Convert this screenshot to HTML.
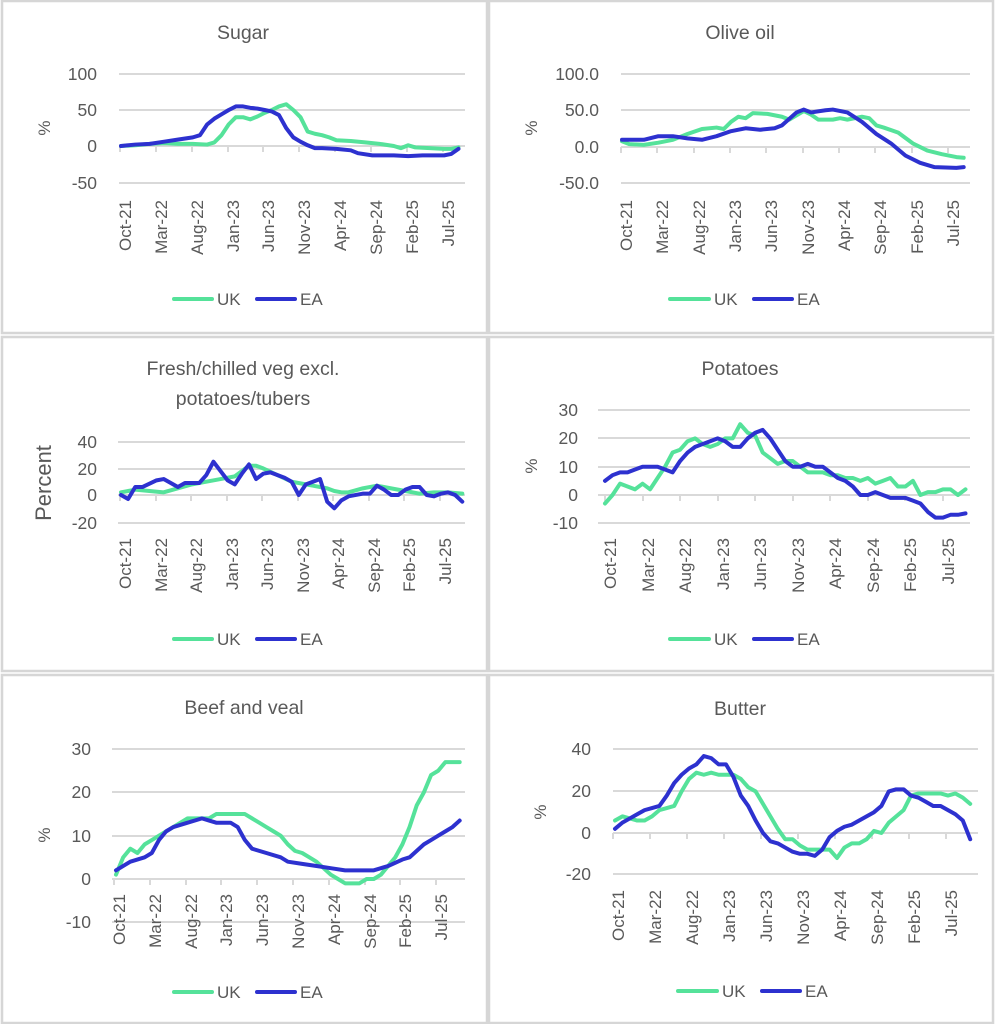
<!DOCTYPE html>
<html><head><meta charset="utf-8"><style>
html,body{margin:0;padding:0;background:#fff}
svg{display:block}
text{font-family:"Liberation Sans",sans-serif;fill:#595959}
.t{font-size:19.5px;text-anchor:middle}
.y{font-size:17.5px;text-anchor:end}
.x{font-size:17px;text-anchor:end}
.lg{font-size:17px}
.g{stroke:#d9d9d9;stroke-width:2}
.uk{fill:none;stroke:#55e29a;stroke-width:4;stroke-linejoin:round;stroke-linecap:round}
.ea{fill:none;stroke:#2d31cf;stroke-width:4;stroke-linejoin:round;stroke-linecap:round}
polyline{vector-effect:non-scaling-stroke}
</style></head><body>
<svg width="995" height="1024" viewBox="0 0 995 1024" xmlns="http://www.w3.org/2000/svg">
<rect x="0" y="0" width="995" height="1024" fill="#fff"/>
<g fill="none" stroke="#d6d6d6" stroke-width="2.5">
<rect x="2" y="1" width="485" height="332"/>
<rect x="489" y="1" width="504" height="332"/>
<rect x="2" y="337" width="485" height="334"/>
<rect x="489" y="337" width="504" height="334"/>
<rect x="2" y="675" width="485" height="348"/>
<rect x="489" y="675" width="504" height="348"/>
</g>

<!-- SUGAR -->
<text class="t" x="243" y="39">Sugar</text>
<line class="g" x1="119" y1="74" x2="465" y2="74"/><line class="g" x1="119" y1="110" x2="465" y2="110"/><line class="g" x1="119" y1="146" x2="465" y2="146"/><line class="g" x1="119" y1="183" x2="465" y2="183"/>
<g class="g"><line x1="120" y1="146" x2="120" y2="152"/><line x1="156" y1="146" x2="156" y2="152"/><line x1="192" y1="146" x2="192" y2="152"/><line x1="228" y1="146" x2="228" y2="152"/><line x1="263" y1="146" x2="263" y2="152"/><line x1="299" y1="146" x2="299" y2="152"/><line x1="335" y1="146" x2="335" y2="152"/><line x1="371" y1="146" x2="371" y2="152"/><line x1="407" y1="146" x2="407" y2="152"/><line x1="443" y1="146" x2="443" y2="152"/></g>
<text class="y" x="97" y="80">100</text><text class="y" x="97" y="116">50</text><text class="y" x="97" y="152">0</text><text class="y" x="97" y="189">-50</text>
<text class="lg" transform="translate(50,128) rotate(-90)" text-anchor="middle">%</text>
<g class="x"><text transform="translate(131,200) rotate(-90)">Oct-21</text><text transform="translate(167,200) rotate(-90)">Mar-22</text><text transform="translate(203,200) rotate(-90)">Aug-22</text><text transform="translate(239,200) rotate(-90)">Jan-23</text><text transform="translate(274,200) rotate(-90)">Jun-23</text><text transform="translate(310,200) rotate(-90)">Nov-23</text><text transform="translate(346,200) rotate(-90)">Apr-24</text><text transform="translate(382,200) rotate(-90)">Sep-24</text><text transform="translate(418,200) rotate(-90)">Feb-25</text><text transform="translate(454,200) rotate(-90)">Jul-25</text></g>
<g transform="translate(121,146) scale(7.18,-0.72)">
<polyline class="uk" points="0,0 2,1 4,3 6,4 8,3 10,3 12,2 13,5 14,15 15,30 16,40 17,40 18,37 19,41 20,46 21,50 22,55 23,58 24,50 25,40 26,20 27,17 28,15 29,12 30,8 32,7 34,5 36,3 38,0 39,-3 40,1 41,-2 43,-3 45,-4 46,-4 47,-2"/>
<polyline class="ea" points="0,0 2,2 4,3 6,6 8,9 10,12 11,15 12,30 13,38 14,44 15,50 16,55 17,55 18,53 19,52 20,50 21,48 22,43 23,25 24,12 25,6 26,1 27,-3 28,-3 30,-4 32,-6 33,-10 35,-13 38,-13 40,-14 42,-13 45,-13 46,-11 47,-4"/>
</g>
<line class="uk" x1="174" y1="299" x2="212" y2="299"/><text class="lg" x="217" y="305">UK</text>
<line class="ea" x1="257" y1="299" x2="295" y2="299"/><text class="lg" x="300" y="305">EA</text>

<!-- OLIVE OIL -->
<text class="t" x="740" y="39">Olive oil</text>
<line class="g" x1="621" y1="74" x2="970" y2="74"/><line class="g" x1="621" y1="110" x2="970" y2="110"/><line class="g" x1="621" y1="147" x2="970" y2="147"/><line class="g" x1="621" y1="183" x2="970" y2="183"/>
<g class="g"><line x1="621" y1="147" x2="621" y2="153"/><line x1="657" y1="147" x2="657" y2="153"/><line x1="694" y1="147" x2="694" y2="153"/><line x1="730" y1="147" x2="730" y2="153"/><line x1="766" y1="147" x2="766" y2="153"/><line x1="803" y1="147" x2="803" y2="153"/><line x1="839" y1="147" x2="839" y2="153"/><line x1="875" y1="147" x2="875" y2="153"/><line x1="912" y1="147" x2="912" y2="153"/><line x1="948" y1="147" x2="948" y2="153"/></g>
<text class="y" x="599" y="80">100.0</text><text class="y" x="599" y="116">50.0</text><text class="y" x="599" y="153">0.0</text><text class="y" x="599" y="189">-50.0</text>
<text class="lg" transform="translate(537,128) rotate(-90)" text-anchor="middle">%</text>
<g class="x"><text transform="translate(632,200) rotate(-90)">Oct-21</text><text transform="translate(668,200) rotate(-90)">Mar-22</text><text transform="translate(705,200) rotate(-90)">Aug-22</text><text transform="translate(741,200) rotate(-90)">Jan-23</text><text transform="translate(777,200) rotate(-90)">Jun-23</text><text transform="translate(814,200) rotate(-90)">Nov-23</text><text transform="translate(850,200) rotate(-90)">Apr-24</text><text transform="translate(886,200) rotate(-90)">Sep-24</text><text transform="translate(923,200) rotate(-90)">Feb-25</text><text transform="translate(959,200) rotate(-90)">Jul-25</text></g>
<g transform="translate(622,147) scale(7.27,-0.72)">
<polyline class="uk" points="0,8 1,4 3,3 5,6 7,10 9,18 11,25 13,27 14,25 15,35 16,42 17,40 18,47 20,46 22,42 23,38 25,50 26,45 27,38 29,38 30,40 31,38 33,42 34,40 35,30 36,27 38,20 40,5 42,-5 44,-10 46,-14 47,-15"/>
<polyline class="ea" points="0,10 3,10 5,15 7,15 9,12 11,10 13,15 15,22 17,26 19,24 21,26 22,30 24,48 25,52 26,48 28,51 29,52 31,48 33,35 35,18 37,5 39,-12 41,-22 43,-28 46,-29 47,-28"/>
</g>
<line class="uk" x1="670" y1="299" x2="709" y2="299"/><text class="lg" x="714" y="305">UK</text>
<line class="ea" x1="754" y1="299" x2="792" y2="299"/><text class="lg" x="797" y="305">EA</text>

<!-- VEG -->
<text class="t" x="243" y="375">Fresh/chilled veg excl.</text>
<text class="t" x="243" y="405">potatoes/tubers</text>
<line class="g" x1="118" y1="442" x2="465" y2="442"/><line class="g" x1="118" y1="469" x2="465" y2="469"/><line class="g" x1="118" y1="495" x2="465" y2="495"/><line class="g" x1="118" y1="523" x2="465" y2="523"/>
<g class="g"><line x1="120" y1="495" x2="120" y2="501"/><line x1="156" y1="495" x2="156" y2="501"/><line x1="191" y1="495" x2="191" y2="501"/><line x1="227" y1="495" x2="227" y2="501"/><line x1="262" y1="495" x2="262" y2="501"/><line x1="298" y1="495" x2="298" y2="501"/><line x1="333" y1="495" x2="333" y2="501"/><line x1="369" y1="495" x2="369" y2="501"/><line x1="404" y1="495" x2="404" y2="501"/><line x1="440" y1="495" x2="440" y2="501"/></g>
<text class="y" x="97" y="448">40</text><text class="y" x="97" y="475">20</text><text class="y" x="97" y="501">0</text><text class="y" x="97" y="529">-20</text>
<text transform="translate(51,483) rotate(-90)" text-anchor="middle" style="font-size:22px">Percent</text>
<g class="x"><text transform="translate(131,538) rotate(-90)">Oct-21</text><text transform="translate(167,538) rotate(-90)">Mar-22</text><text transform="translate(202,538) rotate(-90)">Aug-22</text><text transform="translate(238,538) rotate(-90)">Jan-23</text><text transform="translate(273,538) rotate(-90)">Jun-23</text><text transform="translate(309,538) rotate(-90)">Nov-23</text><text transform="translate(344,538) rotate(-90)">Apr-24</text><text transform="translate(380,538) rotate(-90)">Sep-24</text><text transform="translate(415,538) rotate(-90)">Feb-25</text><text transform="translate(451,538) rotate(-90)">Jul-25</text></g>
<g transform="translate(121,495) scale(7.11,-1.33)">
<polyline class="uk" points="0,2 2,4 4,3 6,2 8,5 10,8 12,10 14,12 16,14 17,18 18,22 19,22 20,20 22,15 24,10 26,8 27,7 29,5 30,3 31,2 32,2 34,5 36,7 38,5 40,3 42,1 44,2 46,2 48,1"/>
<polyline class="ea" points="0,0 1,-3 2,6 3,6 5,11 6,12 7,9 8,6 9,9 10,9 11,9 12,15 13,25 14,18 15,11 16,8 17,16 18,23 19,12 20,16 21,17 23,13 24,10 25,0 26,8 27,10 28,12 29,-5 30,-10 31,-4 32,-1 34,1 35,1 36,7 37,4 38,0 39,0 40,4 41,6 42,6 43,0 44,-1 45,1 46,2 47,0 48,-5"/>
</g>
<line class="uk" x1="174" y1="639" x2="212" y2="639"/><text class="lg" x="217" y="645">UK</text>
<line class="ea" x1="257" y1="639" x2="295" y2="639"/><text class="lg" x="300" y="645">EA</text>

<!-- POTATOES -->
<text class="t" x="740" y="375">Potatoes</text>
<line class="g" x1="598" y1="410" x2="970" y2="410"/><line class="g" x1="598" y1="438" x2="970" y2="438"/><line class="g" x1="598" y1="467" x2="970" y2="467"/><line class="g" x1="598" y1="495" x2="970" y2="495"/><line class="g" x1="598" y1="523" x2="970" y2="523"/>
<g class="g"><line x1="605" y1="495" x2="605" y2="501"/><line x1="643" y1="495" x2="643" y2="501"/><line x1="680" y1="495" x2="680" y2="501"/><line x1="718" y1="495" x2="718" y2="501"/><line x1="755" y1="495" x2="755" y2="501"/><line x1="793" y1="495" x2="793" y2="501"/><line x1="830" y1="495" x2="830" y2="501"/><line x1="868" y1="495" x2="868" y2="501"/><line x1="905" y1="495" x2="905" y2="501"/><line x1="943" y1="495" x2="943" y2="501"/></g>
<text class="y" x="578" y="416">30</text><text class="y" x="578" y="444">20</text><text class="y" x="578" y="473">10</text><text class="y" x="578" y="501">0</text><text class="y" x="578" y="529">-10</text>
<text class="lg" transform="translate(537,466) rotate(-90)" text-anchor="middle">%</text>
<g class="x"><text transform="translate(616,538) rotate(-90)">Oct-21</text><text transform="translate(654,538) rotate(-90)">Mar-22</text><text transform="translate(691,538) rotate(-90)">Aug-22</text><text transform="translate(729,538) rotate(-90)">Jan-23</text><text transform="translate(766,538) rotate(-90)">Jun-23</text><text transform="translate(804,538) rotate(-90)">Nov-23</text><text transform="translate(841,538) rotate(-90)">Apr-24</text><text transform="translate(879,538) rotate(-90)">Sep-24</text><text transform="translate(916,538) rotate(-90)">Feb-25</text><text transform="translate(954,538) rotate(-90)">Jul-25</text></g>
<g transform="translate(605,495) scale(7.51,-2.83)">
<polyline class="uk" points="0,-3 1,0 2,4 3,3 4,2 5,4 6,2 7,6 8,10 9,15 10,16 11,19 12,20 13,18 14,17 15,18 16,20 17,20 18,25 19,22 20,21 21,15 22,13 23,11 24,12 25,12 26,10 27,8 28,8 29,8 30,7 31,7 32,6 33,6 34,5 35,6 36,4 37,5 38,6 39,3 40,3 41,5 42,0 43,1 44,1 45,2 46,2 47,0 48,2"/>
<polyline class="ea" points="0,5 1,7 2,8 3,8 4,9 5,10 6,10 7,10 8,9 9,8 10,12 11,15 12,17 13,18 14,19 15,20 16,19 17,17 18,17 19,20 20,22 21,23 22,20 23,16 24,12 25,10 26,10 27,11 28,10 29,10 30,8 31,6 32,5 33,3 34,0 35,0 36,1 37,0 38,-1 39,-1 40,-1 41,-2 42,-3 43,-6 44,-8 45,-8 46,-7 47,-7 48,-6.5"/>
</g>
<line class="uk" x1="670" y1="639" x2="709" y2="639"/><text class="lg" x="714" y="645">UK</text>
<line class="ea" x1="754" y1="639" x2="792" y2="639"/><text class="lg" x="797" y="645">EA</text>

<!-- BEEF -->
<text class="t" x="244" y="714">Beef and veal</text>
<line class="g" x1="112" y1="749" x2="465" y2="749"/><line class="g" x1="112" y1="792" x2="465" y2="792"/><line class="g" x1="112" y1="836" x2="465" y2="836"/><line class="g" x1="112" y1="879" x2="465" y2="879"/><line class="g" x1="112" y1="922" x2="465" y2="922"/>
<g class="g"><line x1="114" y1="879" x2="114" y2="885"/><line x1="150" y1="879" x2="150" y2="885"/><line x1="186" y1="879" x2="186" y2="885"/><line x1="221" y1="879" x2="221" y2="885"/><line x1="257" y1="879" x2="257" y2="885"/><line x1="293" y1="879" x2="293" y2="885"/><line x1="329" y1="879" x2="329" y2="885"/><line x1="365" y1="879" x2="365" y2="885"/><line x1="400" y1="879" x2="400" y2="885"/><line x1="436" y1="879" x2="436" y2="885"/></g>
<text class="y" x="91" y="755">30</text><text class="y" x="91" y="798">20</text><text class="y" x="91" y="842">10</text><text class="y" x="91" y="885">0</text><text class="y" x="91" y="928">-10</text>
<text class="lg" transform="translate(50,835) rotate(-90)" text-anchor="middle">%</text>
<g class="x"><text transform="translate(125,894) rotate(-90)">Oct-21</text><text transform="translate(161,894) rotate(-90)">Mar-22</text><text transform="translate(197,894) rotate(-90)">Aug-22</text><text transform="translate(232,894) rotate(-90)">Jan-23</text><text transform="translate(268,894) rotate(-90)">Jun-23</text><text transform="translate(304,894) rotate(-90)">Nov-23</text><text transform="translate(340,894) rotate(-90)">Apr-24</text><text transform="translate(376,894) rotate(-90)">Sep-24</text><text transform="translate(411,894) rotate(-90)">Feb-25</text><text transform="translate(447,894) rotate(-90)">Jul-25</text></g>
<g transform="translate(116,879) scale(7.16,-4.33)">
<polyline class="uk" points="0,1 1,5 2,7 3,6 4,8 5,9 6,10 7,11 8,12 9,13 10,14 11,14 12,14 13,14 14,15 15,15 17,15 18,15 19,14 20,13 21,12 22,11 23,10 24,8 25,6.5 26,6 27,5 28,4 29,2.5 30,1 31,0 32,-1 33,-1 34,-1 35,0 36,0 37,1 38,3 39,5 40,8 41,12 42,17 43,20 44,24 45,25 46,27 47,27 48,27"/>
<polyline class="ea" points="0,2 2,4 4,5 5,6 6,9 7,11 8,12 10,13 12,14 13,13.5 14,13 16,13 17,12 18,9 19,7 21,6 23,5 24,4 26,3.5 28,3 30,2.5 32,2 34,2 36,2 37,2.5 38,3 40,4.5 41,5 42,6.5 43,8 44,9 45,10 46,11 47,12 48,13.5"/>
</g>
<line class="uk" x1="174" y1="992" x2="212" y2="992"/><text class="lg" x="217" y="998">UK</text>
<line class="ea" x1="257" y1="992" x2="295" y2="992"/><text class="lg" x="300" y="998">EA</text>

<!-- BUTTER -->
<text class="t" x="740" y="715">Butter</text>
<line class="g" x1="613" y1="749" x2="978" y2="749"/><line class="g" x1="613" y1="791" x2="978" y2="791"/><line class="g" x1="613" y1="833" x2="978" y2="833"/><line class="g" x1="613" y1="874" x2="978" y2="874"/>
<g class="g"><line x1="613" y1="833" x2="613" y2="839"/><line x1="650" y1="833" x2="650" y2="839"/><line x1="687" y1="833" x2="687" y2="839"/><line x1="724" y1="833" x2="724" y2="839"/><line x1="761" y1="833" x2="761" y2="839"/><line x1="798" y1="833" x2="798" y2="839"/><line x1="835" y1="833" x2="835" y2="839"/><line x1="872" y1="833" x2="872" y2="839"/><line x1="909" y1="833" x2="909" y2="839"/><line x1="946" y1="833" x2="946" y2="839"/></g>
<text class="y" x="591" y="755">40</text><text class="y" x="591" y="797">20</text><text class="y" x="591" y="839">0</text><text class="y" x="591" y="880">-20</text>
<text class="lg" transform="translate(546,812) rotate(-90)" text-anchor="middle">%</text>
<g class="x"><text transform="translate(624,890) rotate(-90)">Oct-21</text><text transform="translate(661,890) rotate(-90)">Mar-22</text><text transform="translate(698,890) rotate(-90)">Aug-22</text><text transform="translate(735,890) rotate(-90)">Jan-23</text><text transform="translate(772,890) rotate(-90)">Jun-23</text><text transform="translate(809,890) rotate(-90)">Nov-23</text><text transform="translate(846,890) rotate(-90)">Apr-24</text><text transform="translate(883,890) rotate(-90)">Sep-24</text><text transform="translate(920,890) rotate(-90)">Feb-25</text><text transform="translate(957,890) rotate(-90)">Jul-25</text></g>
<g transform="translate(615,833) scale(7.4,-2.08)">
<polyline class="uk" points="0,6 1,8 2,7 3,6 4,6 5,8 6,11 7,12 8,13 9,20 10,26 11,29 12,28 13,29 14,28 15,28 16,28 17,26 18,22 19,20 20,14 21,8 22,2 23,-3 24,-3 25,-6 26,-8 27,-8 28,-8 29,-8 30,-12 31,-7 32,-5 33,-5 34,-3 35,1 36,0 37,5 38,8 39,11 40,18 41,19 42,19 43,19 44,19 45,18 46,19 47,17 48,14"/>
<polyline class="ea" points="0,2 1,5 2,7 3,9 4,11 5,12 6,13 7,18 8,24 9,28 10,31 11,33 12,37 13,36 14,33 15,33 16,27 17,18 18,13 19,6 20,0 21,-4 22,-5 23,-7 24,-9 25,-10 26,-10 27,-11 28,-8 29,-2 30,1 31,3 32,4 33,6 34,8 35,10 36,13 37,20 38,21 39,21 40,18 41,17 42,15 43,13 44,13 45,11 46,9 47,6 48,-3"/>
</g>
<line class="uk" x1="678" y1="991" x2="717" y2="991"/><text class="lg" x="722" y="997">UK</text>
<line class="ea" x1="762" y1="991" x2="800" y2="991"/><text class="lg" x="805" y="997">EA</text>
</svg>
</body></html>
